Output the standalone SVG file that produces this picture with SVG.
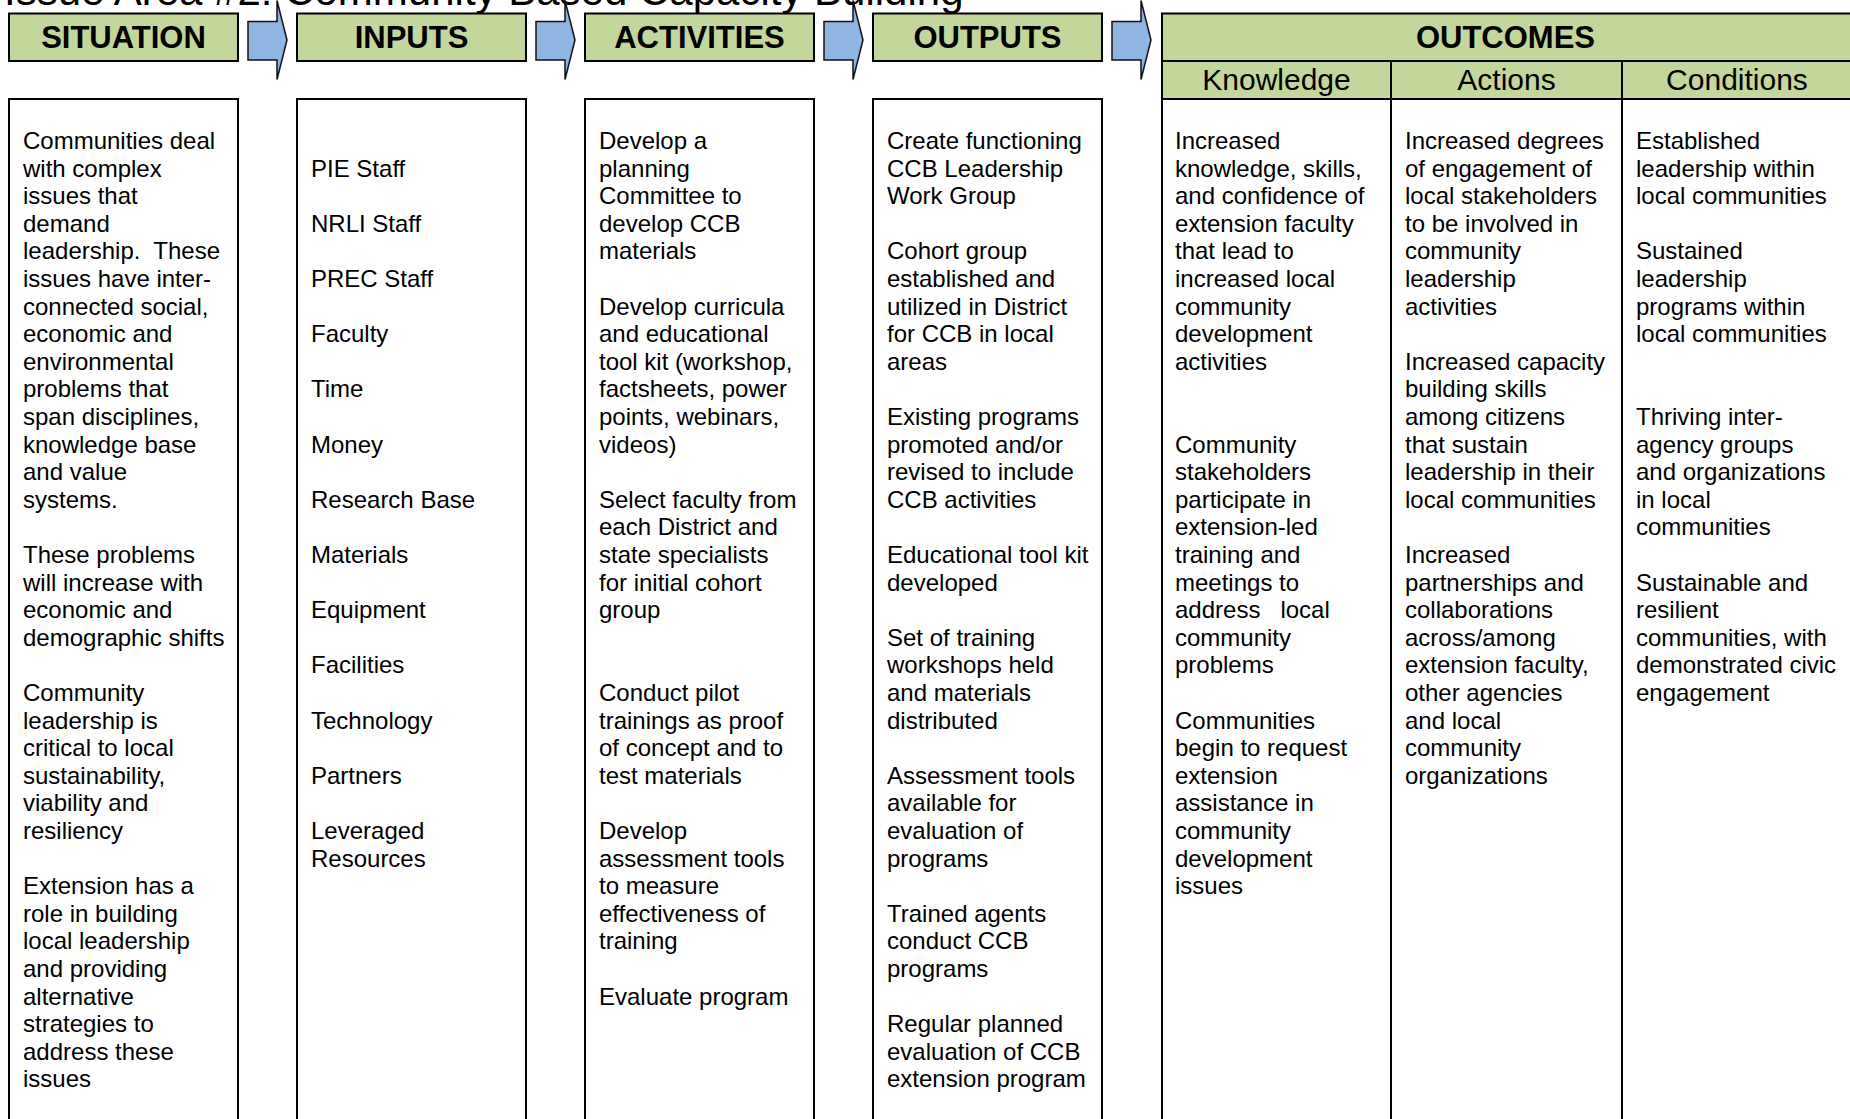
<svg xmlns="http://www.w3.org/2000/svg" width="1850" height="1119" viewBox="0 0 1850 1119">
<style>
.hdr{fill:#C3D69B;stroke:#000;stroke-width:2}
.box{fill:#fff;stroke:#000;stroke-width:2}
.ln{stroke:#000;stroke-width:2;fill:none}
.arrow{fill:#8DB4E2;stroke:#111;stroke-width:1.5;stroke-linejoin:miter}
text{font-family:"Liberation Sans",Arial,sans-serif;fill:#000}
.t{font-size:24px;white-space:pre}
.h{font-size:31px;font-weight:bold;text-anchor:middle}
.sh{font-size:30px;text-anchor:middle}
.title{font-size:42px}
</style>
<rect width="1850" height="1119" fill="#fff"/>
<text class="title" x="4" y="5">Issue Area #2: Community Based Capacity Building</text>

<g id="connectors">
<polygon class="arrow" points="248,21.5 277,21.5 277,0.5 287,40 277,79.5 277,60 248,60"/>
<polygon class="arrow" points="536,21.5 565,21.5 565,0.5 575,40 565,79.5 565,60 536,60"/>
<polygon class="arrow" points="824,21.5 853,21.5 853,0.5 863,40 853,79.5 853,60 824,60"/>
<polygon class="arrow" points="1112,21.5 1141,21.5 1141,0.5 1151,40 1141,79.5 1141,60 1112,60"/>
</g>

<g id="situation">
<rect class="hdr" x="9" y="13.5" width="229" height="47.5"/>
<text class="h" x="123.5" y="48">SITUATION</text>
<rect class="box" x="9" y="99" width="229" height="1040"/>
<text class="t">
<tspan x="23" y="149">Communities deal</tspan>
<tspan x="23" y="176.6">with complex</tspan>
<tspan x="23" y="204.2">issues that</tspan>
<tspan x="23" y="231.8">demand</tspan>
<tspan x="23" y="259.4">leadership.  These</tspan>
<tspan x="23" y="287">issues have inter-</tspan>
<tspan x="23" y="314.6">connected social,</tspan>
<tspan x="23" y="342.2">economic and</tspan>
<tspan x="23" y="369.8">environmental</tspan>
<tspan x="23" y="397.4">problems that</tspan>
<tspan x="23" y="425">span disciplines,</tspan>
<tspan x="23" y="452.6">knowledge base</tspan>
<tspan x="23" y="480.2">and value</tspan>
<tspan x="23" y="507.8">systems.</tspan>
<tspan x="23" y="563">These problems</tspan>
<tspan x="23" y="590.6">will increase with</tspan>
<tspan x="23" y="618.2">economic and</tspan>
<tspan x="23" y="645.8">demographic shifts</tspan>
<tspan x="23" y="701">Community</tspan>
<tspan x="23" y="728.6">leadership is</tspan>
<tspan x="23" y="756.2">critical to local</tspan>
<tspan x="23" y="783.8">sustainability,</tspan>
<tspan x="23" y="811.4">viability and</tspan>
<tspan x="23" y="839">resiliency</tspan>
<tspan x="23" y="894.2">Extension has a</tspan>
<tspan x="23" y="921.8">role in building</tspan>
<tspan x="23" y="949.4">local leadership</tspan>
<tspan x="23" y="977">and providing</tspan>
<tspan x="23" y="1004.6">alternative</tspan>
<tspan x="23" y="1032.2">strategies to</tspan>
<tspan x="23" y="1059.8">address these</tspan>
<tspan x="23" y="1087.4">issues</tspan>
</text>
</g>

<g id="inputs">
<rect class="hdr" x="297" y="13.5" width="229" height="47.5"/>
<text class="h" x="411.5" y="48">INPUTS</text>
<rect class="box" x="297" y="99" width="229" height="1040"/>
<text class="t">
<tspan x="311" y="176.6">PIE Staff</tspan>
<tspan x="311" y="231.8">NRLI Staff</tspan>
<tspan x="311" y="287">PREC Staff</tspan>
<tspan x="311" y="342.2">Faculty</tspan>
<tspan x="311" y="397.4">Time</tspan>
<tspan x="311" y="452.6">Money</tspan>
<tspan x="311" y="507.8">Research Base</tspan>
<tspan x="311" y="563">Materials</tspan>
<tspan x="311" y="618.2">Equipment</tspan>
<tspan x="311" y="673.4">Facilities</tspan>
<tspan x="311" y="728.6">Technology</tspan>
<tspan x="311" y="783.8">Partners</tspan>
<tspan x="311" y="839">Leveraged</tspan>
<tspan x="311" y="866.6">Resources</tspan>
</text>
</g>

<g id="activities">
<rect class="hdr" x="585" y="13.5" width="229" height="47.5"/>
<text class="h" x="699.5" y="48">ACTIVITIES</text>
<rect class="box" x="585" y="99" width="229" height="1040"/>
<text class="t">
<tspan x="599" y="149">Develop a</tspan>
<tspan x="599" y="176.6">planning</tspan>
<tspan x="599" y="204.2">Committee to</tspan>
<tspan x="599" y="231.8">develop CCB</tspan>
<tspan x="599" y="259.4">materials</tspan>
<tspan x="599" y="314.6">Develop curricula</tspan>
<tspan x="599" y="342.2">and educational</tspan>
<tspan x="599" y="369.8">tool kit (workshop,</tspan>
<tspan x="599" y="397.4">factsheets, power</tspan>
<tspan x="599" y="425">points, webinars,</tspan>
<tspan x="599" y="452.6">videos)</tspan>
<tspan x="599" y="507.8">Select faculty from</tspan>
<tspan x="599" y="535.4">each District and</tspan>
<tspan x="599" y="563">state specialists</tspan>
<tspan x="599" y="590.6">for initial cohort</tspan>
<tspan x="599" y="618.2">group</tspan>
<tspan x="599" y="701">Conduct pilot</tspan>
<tspan x="599" y="728.6">trainings as proof</tspan>
<tspan x="599" y="756.2">of concept and to</tspan>
<tspan x="599" y="783.8">test materials</tspan>
<tspan x="599" y="839">Develop</tspan>
<tspan x="599" y="866.6">assessment tools</tspan>
<tspan x="599" y="894.2">to measure</tspan>
<tspan x="599" y="921.8">effectiveness of</tspan>
<tspan x="599" y="949.4">training</tspan>
<tspan x="599" y="1004.6">Evaluate program</tspan>
</text>
</g>

<g id="outputs">
<rect class="hdr" x="873" y="13.5" width="229" height="47.5"/>
<text class="h" x="987.5" y="48">OUTPUTS</text>
<rect class="box" x="873" y="99" width="229" height="1040"/>
<text class="t">
<tspan x="887" y="149">Create functioning</tspan>
<tspan x="887" y="176.6">CCB Leadership</tspan>
<tspan x="887" y="204.2">Work Group</tspan>
<tspan x="887" y="259.4">Cohort group</tspan>
<tspan x="887" y="287">established and</tspan>
<tspan x="887" y="314.6">utilized in District</tspan>
<tspan x="887" y="342.2">for CCB in local</tspan>
<tspan x="887" y="369.8">areas</tspan>
<tspan x="887" y="425">Existing programs</tspan>
<tspan x="887" y="452.6">promoted and/or</tspan>
<tspan x="887" y="480.2">revised to include</tspan>
<tspan x="887" y="507.8">CCB activities</tspan>
<tspan x="887" y="563">Educational tool kit</tspan>
<tspan x="887" y="590.6">developed</tspan>
<tspan x="887" y="645.8">Set of training</tspan>
<tspan x="887" y="673.4">workshops held</tspan>
<tspan x="887" y="701">and materials</tspan>
<tspan x="887" y="728.6">distributed</tspan>
<tspan x="887" y="783.8">Assessment tools</tspan>
<tspan x="887" y="811.4">available for</tspan>
<tspan x="887" y="839">evaluation of</tspan>
<tspan x="887" y="866.6">programs</tspan>
<tspan x="887" y="921.8">Trained agents</tspan>
<tspan x="887" y="949.4">conduct CCB</tspan>
<tspan x="887" y="977">programs</tspan>
<tspan x="887" y="1032.2">Regular planned</tspan>
<tspan x="887" y="1059.8">evaluation of CCB</tspan>
<tspan x="887" y="1087.4">extension program</tspan>
</text>
</g>

<g id="outcomes">
<rect class="hdr" x="1162" y="13.5" width="700" height="47.5"/>
<text class="h" x="1505.5" y="48">OUTCOMES</text>
<rect class="hdr" x="1162" y="61" width="700" height="38"/>
<rect class="box" x="1162" y="99" width="700" height="1040"/>
<line class="ln" x1="1391" y1="61" x2="1391" y2="1119"/>
<line class="ln" x1="1622" y1="61" x2="1622" y2="1119"/>
</g>

<g id="knowledge">
<text class="sh" x="1276.5" y="90">Knowledge</text>
<text class="t">
<tspan x="1175" y="149">Increased</tspan>
<tspan x="1175" y="176.6">knowledge, skills,</tspan>
<tspan x="1175" y="204.2">and confidence of</tspan>
<tspan x="1175" y="231.8">extension faculty</tspan>
<tspan x="1175" y="259.4">that lead to</tspan>
<tspan x="1175" y="287">increased local</tspan>
<tspan x="1175" y="314.6">community</tspan>
<tspan x="1175" y="342.2">development</tspan>
<tspan x="1175" y="369.8">activities</tspan>
<tspan x="1175" y="452.6">Community</tspan>
<tspan x="1175" y="480.2">stakeholders</tspan>
<tspan x="1175" y="507.8">participate in</tspan>
<tspan x="1175" y="535.4">extension-led</tspan>
<tspan x="1175" y="563">training and</tspan>
<tspan x="1175" y="590.6">meetings to</tspan>
<tspan x="1175" y="618.2">address   local</tspan>
<tspan x="1175" y="645.8">community</tspan>
<tspan x="1175" y="673.4">problems</tspan>
<tspan x="1175" y="728.6">Communities</tspan>
<tspan x="1175" y="756.2">begin to request</tspan>
<tspan x="1175" y="783.8">extension</tspan>
<tspan x="1175" y="811.4">assistance in</tspan>
<tspan x="1175" y="839">community</tspan>
<tspan x="1175" y="866.6">development</tspan>
<tspan x="1175" y="894.2">issues</tspan>
</text>
</g>

<g id="actions">
<text class="sh" x="1506.5" y="90">Actions</text>
<text class="t">
<tspan x="1405" y="149">Increased degrees</tspan>
<tspan x="1405" y="176.6">of engagement of</tspan>
<tspan x="1405" y="204.2">local stakeholders</tspan>
<tspan x="1405" y="231.8">to be involved in</tspan>
<tspan x="1405" y="259.4">community</tspan>
<tspan x="1405" y="287">leadership</tspan>
<tspan x="1405" y="314.6">activities</tspan>
<tspan x="1405" y="369.8">Increased capacity</tspan>
<tspan x="1405" y="397.4">building skills</tspan>
<tspan x="1405" y="425">among citizens</tspan>
<tspan x="1405" y="452.6">that sustain</tspan>
<tspan x="1405" y="480.2">leadership in their</tspan>
<tspan x="1405" y="507.8">local communities</tspan>
<tspan x="1405" y="563">Increased</tspan>
<tspan x="1405" y="590.6">partnerships and</tspan>
<tspan x="1405" y="618.2">collaborations</tspan>
<tspan x="1405" y="645.8">across/among</tspan>
<tspan x="1405" y="673.4">extension faculty,</tspan>
<tspan x="1405" y="701">other agencies</tspan>
<tspan x="1405" y="728.6">and local</tspan>
<tspan x="1405" y="756.2">community</tspan>
<tspan x="1405" y="783.8">organizations</tspan>
</text>
</g>

<g id="conditions">
<text class="sh" x="1737" y="90">Conditions</text>
<text class="t">
<tspan x="1636" y="149">Established</tspan>
<tspan x="1636" y="176.6">leadership within</tspan>
<tspan x="1636" y="204.2">local communities</tspan>
<tspan x="1636" y="259.4">Sustained</tspan>
<tspan x="1636" y="287">leadership</tspan>
<tspan x="1636" y="314.6">programs within</tspan>
<tspan x="1636" y="342.2">local communities</tspan>
<tspan x="1636" y="425">Thriving inter-</tspan>
<tspan x="1636" y="452.6">agency groups</tspan>
<tspan x="1636" y="480.2">and organizations</tspan>
<tspan x="1636" y="507.8">in local</tspan>
<tspan x="1636" y="535.4">communities</tspan>
<tspan x="1636" y="590.6">Sustainable and</tspan>
<tspan x="1636" y="618.2">resilient</tspan>
<tspan x="1636" y="645.8">communities, with</tspan>
<tspan x="1636" y="673.4">demonstrated civic</tspan>
<tspan x="1636" y="701">engagement</tspan>
</text>
</g>
</svg>
